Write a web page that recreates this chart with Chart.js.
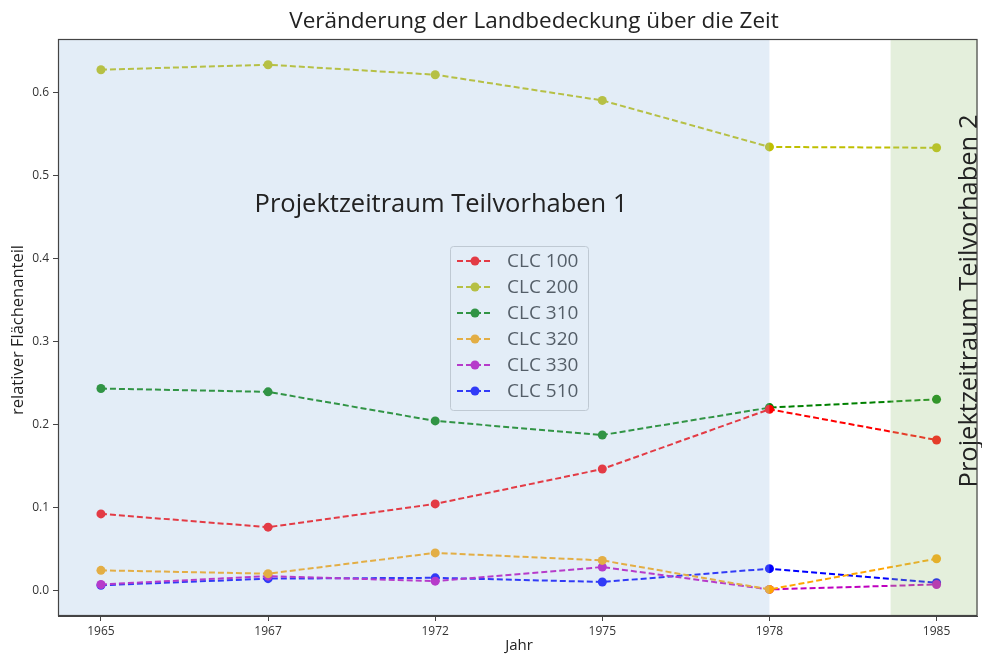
<!DOCTYPE html>
<html>
<head>
<meta charset="utf-8">
<script src="https://cdn.jsdelivr.net/npm/chart.js@4"></script>
<style>
  html, body { margin: 0; padding: 0; background: #fff; }
  #wrap { width: 982px; height: 655px; }
</style>
</head>
<body>
<div id="wrap"><canvas id="myChart" width="982" height="655"></canvas></div>
<script>
const years = ['1965', '1967', '1972', '1975', '1978', '1985'];
const clc100 = [0.092, 0.076, 0.104, 0.146, 0.218, 0.181];
const clc200 = [0.627, 0.633, 0.621, 0.590, 0.534, 0.533];
const clc310 = [0.243, 0.239, 0.204, 0.187, 0.220, 0.230];
const clc320 = [0.024, 0.020, 0.045, 0.036, 0.001, 0.038];
const clc330 = [0.007, 0.017, 0.011, 0.028, 0.001, 0.007];
const clc510 = [0.006, 0.014, 0.015, 0.010, 0.026, 0.009];
const yTicks = [0.0, 0.1, 0.2, 0.3, 0.4, 0.5, 0.6];

const FONT = "'Open Sans', 'Noto Sans', sans-serif";

function toPoints(arr) {
    return arr.map((v, i) => ({ x: i, y: v }));
}

function series(label, values, color) {
    return {
        label: label,
        data: toPoints(values),
        borderColor: color,
        backgroundColor: color,
        borderWidth: 2,
        borderDash: [6, 3],
        pointRadius: 4.5,
        pointHoverRadius: 4.5,
        pointBorderWidth: 0,
        tension: 0,
        fill: false
    };
}

// shaded periods, legend and annotations
const overlayPlugin = {
    id: 'overlay',
    afterDatasetsDraw(chart) {
        const c = chart.ctx;
        const area = chart.chartArea;
        const xs = chart.scales.x;

        // legend (drawn under the shading, like the original)
        const lx = 450, ly = 246, lw = 138, lh = 164;
        c.save();
        c.fillStyle = 'rgba(255,255,255,0.6)';
        c.strokeStyle = '#cccccc';
        c.lineWidth = 1;
        c.beginPath();
        c.roundRect(lx + 0.5, ly + 0.5, lw, lh, 3);
        c.fill();
        c.stroke();
        chart.data.datasets.forEach((ds, i) => {
            const yy = ly + 15 + i * 26;
            c.strokeStyle = ds.borderColor;
            c.lineWidth = 2;
            c.setLineDash([6, 3]);
            c.beginPath();
            c.moveTo(lx + 7, yy);
            c.lineTo(lx + 42, yy);
            c.stroke();
            c.setLineDash([]);
            c.fillStyle = ds.borderColor;
            c.beginPath();
            c.arc(lx + 25, yy, 4.5, 0, Math.PI * 2);
            c.fill();
            c.fillStyle = '#333333';
            c.font = '19px ' + FONT;
            c.textBaseline = 'middle';
            c.textAlign = 'left';
            c.fillText(ds.label, lx + 57, yy + 1);
        });
        c.restore();

        // shaded periods
        const x1978 = xs.getPixelForValue(4);
        const xStart2 = xs.getPixelForValue(4.725);
        c.save();
        c.fillStyle = 'rgba(162,195,228,0.3)';
        c.fillRect(area.left, area.top, x1978 - area.left, area.bottom - area.top);
        c.fillStyle = 'rgba(165,202,138,0.3)';
        c.fillRect(xStart2, area.top, area.right - xStart2, area.bottom - area.top);
        c.restore();

        // period labels
        c.save();
        c.fillStyle = '#222222';
        c.font = '25.5px ' + FONT;
        c.textAlign = 'center';
        c.textBaseline = 'middle';
        c.fillText('Projektzeitraum Teilvorhaben 1', 441, 205);
        c.translate(970, 301);
        c.rotate(-Math.PI / 2);
        c.fillText('Projektzeitraum Teilvorhaben 2', 0, 0);
        c.restore();
    },
    afterDraw(chart) {
        const c = chart.ctx;
        const area = chart.chartArea;
        c.save();
        c.strokeStyle = '#444444';
        c.lineWidth = 1.2;
        c.strokeRect(area.left + 0.5, area.top + 0.5, area.right - area.left - 1, area.bottom - area.top - 1);
        c.fillStyle = '#222222';
        c.textAlign = 'center';
        c.textBaseline = 'middle';
        c.font = '22.5px ' + FONT;
        c.fillText('Veränderung der Landbedeckung über die Zeit', 534, 22);
        c.font = '15px ' + FONT;
        c.fillText('Jahr', 519, 646);
        c.translate(18, 330);
        c.rotate(-Math.PI / 2);
        c.font = '16.5px ' + FONT;
        c.fillText('relativer Flächenanteil', 0, 0);
        c.restore();
    }
};

const ctx = document.getElementById('myChart').getContext('2d');
const myChart = new Chart(ctx, {
    type: 'line',
    data: {
        datasets: [
            series('CLC 100', clc100, '#ff0000'),
            series('CLC 200', clc200, '#bfbf00'),
            series('CLC 310', clc310, '#008000'),
            series('CLC 320', clc320, '#ffa500'),
            series('CLC 330', clc330, '#bf00bf'),
            series('CLC 510', clc510, '#0000ff')
        ]
    },
    options: {
        responsive: false,
        animation: false,
        events: [],
        layout: { padding: { top: 39, right: -1, left: 0, bottom: 0 } },
        plugins: {
            legend: { display: false },
            title: { display: false },
            tooltip: { enabled: false }
        },
        scales: {
            x: {
                type: 'linear',
                min: -0.257,
                max: 5.245,
                afterBuildTicks: (scale) => {
                    scale.ticks = years.map((y, i) => ({ value: i }));
                },
                afterFit: (scale) => {
                    scale.height = 39;
                    scale.paddingLeft = 0;
                    scale.paddingRight = 0;
                },
                ticks: {
                    callback: (v) => years[v],
                    color: '#333333',
                    font: { family: FONT, size: 12 },
                    padding: 3,
                    maxRotation: 0
                },
                grid: { drawOnChartArea: false, tickLength: 5, tickColor: '#444444' },
                border: { color: '#444444' }
            },
            y: {
                type: 'linear',
                min: -0.031,
                max: 0.664,
                afterBuildTicks: (scale) => {
                    scale.ticks = yTicks.map(v => ({ value: v }));
                },
                afterFit: (scale) => { scale.width = 58; },
                ticks: {
                    callback: (v) => v.toFixed(1),
                    color: '#333333',
                    font: { family: FONT, size: 12 },
                    padding: 4
                },
                grid: { drawOnChartArea: false, tickLength: 5, tickColor: '#444444' },
                border: { color: '#444444' }
            }
        }
    },
    plugins: [overlayPlugin]
});
</script>
</body>
</html>
